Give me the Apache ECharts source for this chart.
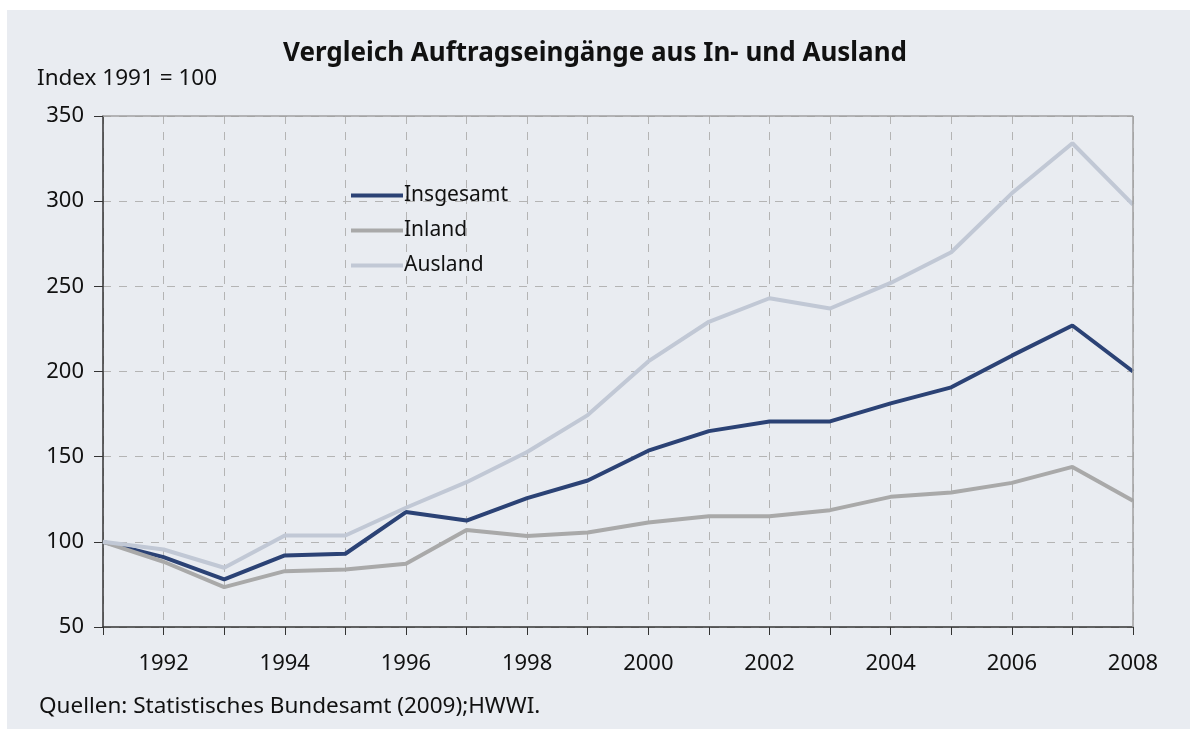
<!DOCTYPE html>
<html>
<head>
<meta charset="utf-8">
<script src="https://cdn.jsdelivr.net/npm/echarts@6/dist/echarts.min.js"></script>
<style>
  html, body { margin: 0; padding: 0; background: #fff; }
  #chart { width: 1190px; height: 729px; }
</style>
</head>
<body>
<div id="chart"></div>
<script>
const years = ['1991', '1992', '1993', '1994', '1995', '1996', '1997', '1998', '1999',
  '2000', '2001', '2002', '2003', '2004', '2005', '2006', '2007', '2008']
const insgesamt = [100, 91, 78, 92, 93, 117.5, 112.5, 125.7, 136, 153.5, 165, 170.7, 170.7, 181.3, 190.7, 209.3, 227, 200]
const inland = [100, 88.3, 73.4, 82.8, 83.8, 87.1, 107, 103.4, 105.5, 111.3, 115, 115, 118.6, 126.4, 129, 134.6, 144, 124.1]
const ausland = [100, 95.5, 84.8, 103.7, 103.7, 120, 135, 152.7, 174.4, 205.9, 229.2, 243, 237, 252, 270, 304.6, 334, 298]

const font = '"Noto Sans", "Open Sans", sans-serif'
const chart = echarts.init(document.getElementById('chart'))

const line = (name, data, color) => ({
  name,
  type: 'line',
  data,
  symbol: 'none',
  lineStyle: { color, width: 4 },
  itemStyle: { color },
  animation: false
})

chart.setOption({
  backgroundColor: 'transparent',
  textStyle: { fontFamily: font },
  graphic: [{
    type: 'rect',
    z: -10,
    shape: { x: 7, y: 10, width: 1183, height: 719 },
    style: { fill: '#e9ecf1' }
  }, {
    type: 'text',
    left: 37,
    top: 67,
    style: { text: 'Index 1991 = 100', fontSize: 22.5, fill: '#111', fontFamily: font }
  }, {
    type: 'text',
    left: 39,
    top: 695,
    style: { text: 'Quellen: Statistisches Bundesamt (2009);HWWI.', fontSize: 22.5, fill: '#111', fontFamily: font }
  }],
  title: {
    text: 'Vergleich Auftragseingänge aus In- und Ausland',
    left: 'center',
    top: 36,
    textStyle: { fontSize: 26, fontWeight: 'bold', color: '#111', fontFamily: font }
  },
  legend: {
    orient: 'vertical',
    left: 346,
    top: 180,
    icon: 'rect',
    itemWidth: 52,
    itemHeight: 4,
    itemGap: 14,
    textStyle: { fontSize: 21, color: '#111', fontFamily: font, padding: [0, 0, 0, -4] },
    data: ['Insgesamt', 'Inland', 'Ausland']
  },
  grid: { left: 103, right: 57, top: 116, bottom: 102 },
  xAxis: {
    type: 'category',
    data: years,
    boundaryGap: false,
    axisLine: { lineStyle: { color: '#333', width: 1.5 } },
    axisTick: { interval: 0, length: 8, lineStyle: { color: '#333' } },
    axisLabel: {
      interval: (idx) => idx % 2 === 1,
      fontSize: 22,
      color: '#111',
      margin: 26
    },
    splitLine: {
      show: true,
      interval: 0,
      lineStyle: { color: '#b4b4b4', type: [8, 8] }
    }
  },
  yAxis: {
    type: 'value',
    min: 50,
    max: 350,
    interval: 50,
    axisLine: { show: true, lineStyle: { color: '#333', width: 1.5 } },
    axisTick: { show: true, length: 9, lineStyle: { color: '#333' } },
    axisLabel: { fontSize: 22, color: '#111', margin: 19 },
    splitLine: { lineStyle: { color: '#b4b4b4', type: [8, 8] } }
  },
  series: [
    line('Insgesamt', insgesamt, '#2b4275'),
    line('Inland', inland, '#a9a9a9'),
    line('Ausland', ausland, '#c1c8d5'),
    {
      // solid top and right frame of the plot area
      type: 'line',
      data: [],
      markLine: {
        silent: true,
        symbol: 'none',
        label: { show: false },
        lineStyle: { color: '#a0a0a0', type: 'solid', width: 1.5 },
        data: [{ yAxis: 350 }, { xAxis: '2008' }]
      }
    }
  ]
})
</script>
</body>
</html>
